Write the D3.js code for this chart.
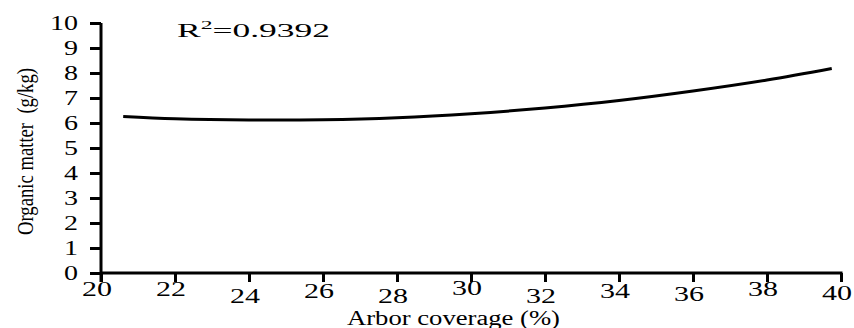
<!DOCTYPE html>
<html><head><meta charset="utf-8">
<script src="https://cdn.jsdelivr.net/npm/d3@7/dist/d3.min.js"></script>
<style>body{margin:0;background:#fff}svg{display:block}text{font-family:"Liberation Serif","DejaVu Serif",serif}</style>
</head><body>
<script>
// Data
const coverage = [20.6, 22, 24, 26, 28, 30, 32, 34, 36, 38, 39.75];
const organicMatter = [6.26, 6.17, 6.12, 6.13, 6.21, 6.37, 6.6, 6.9, 7.28, 7.72, 8.18];
const xTicks = [20, 22, 24, 26, 28, 30, 32, 34, 36, 38, 40];
const yTicks = [0, 1, 2, 3, 4, 5, 6, 7, 8, 9, 10];
const r2Label = "0.9392";
// style: vertical jitter of x tick labels seen in the reference
const xLabelDrop = [23, 23, 30, 25, 30, 22, 30, 25, 28, 23, 27];

const W = 854, H = 328;
const svg = d3.select("body").append("svg").attr("width", W).attr("height", H);
const x = d3.scaleLinear().domain([20, 40]).range([101, 841]);
const y = d3.scaleLinear().domain([0, 10]).range([273, 23]);

// axes
const xAxis = svg.append("g").attr("transform", `translate(0,${y(0)})`)
  .call(d3.axisBottom(x).tickValues(xTicks).tickSize(9).tickFormat(""));
const yAxis = svg.append("g").attr("transform", `translate(${x(20)},0)`)
  .call(d3.axisLeft(y).tickValues(yTicks).tickSize(11).tickFormat(""));
[xAxis, yAxis].forEach(g => {
  g.selectAll("path.domain").attr("stroke", "#000").attr("stroke-width", 3);
  g.selectAll(".tick line").attr("stroke", "#000").attr("stroke-width", 3);
});
xAxis.select("path.domain").attr("d", `M${x(20)},0H${x(40)+1.5}`);
yAxis.select("path.domain").attr("d", `M0,${y(10)}V${y(0)+9}`);

// x tick labels
svg.append("g").selectAll("text").data(xTicks).join("text")
  .attr("x", d => x(d) - 19).attr("y", (d, i) => y(0) + xLabelDrop[i])
  .attr("textLength", 30).attr("lengthAdjust", "spacingAndGlyphs")
  .attr("font-size", 20).attr("fill", "#000")
  .text(d => d);

// y tick labels
svg.append("g").selectAll("text").data(yTicks).join("text")
  .attr("x", d => 78 - String(d).length * 14).attr("y", d => y(d) + 6.5)
  .attr("textLength", d => String(d).length * 14).attr("lengthAdjust", "spacingAndGlyphs")
  .attr("font-size", 20).attr("fill", "#000")
  .text(d => d);

// curve
svg.append("path")
  .datum(coverage.map((c, i) => [c, organicMatter[i]]))
  .attr("fill", "none").attr("stroke", "#000").attr("stroke-width", 3)
  .attr("d", d3.line().x(d => x(d[0])).y(d => y(d[1])).curve(d3.curveCatmullRom));

// R^2 label
const r2 = svg.append("text").attr("x", 177).attr("y", 37)
  .attr("font-size", 18).attr("fill", "#000")
  .attr("textLength", 153).attr("lengthAdjust", "spacingAndGlyphs");
r2.append("tspan").text("R");
r2.append("tspan").attr("font-size", 12).attr("dy", -8).text("2");
r2.append("tspan").attr("dy", 8).text("=" + r2Label);

// axis titles
svg.append("text").attr("x", 347).attr("y", 325)
  .attr("textLength", 213).attr("lengthAdjust", "spacingAndGlyphs")
  .attr("font-size", 20).attr("fill", "#000")
  .text("Arbor coverage (%)");
svg.append("text")
  .attr("transform", "translate(33,235) rotate(-90)")
  .attr("textLength", 167).attr("lengthAdjust", "spacingAndGlyphs")
  .attr("font-size", 23).attr("fill", "#000")
  .attr("xml:space", "preserve")
  .text("Organic matter  (g/kg)");
</script>
</body></html>
